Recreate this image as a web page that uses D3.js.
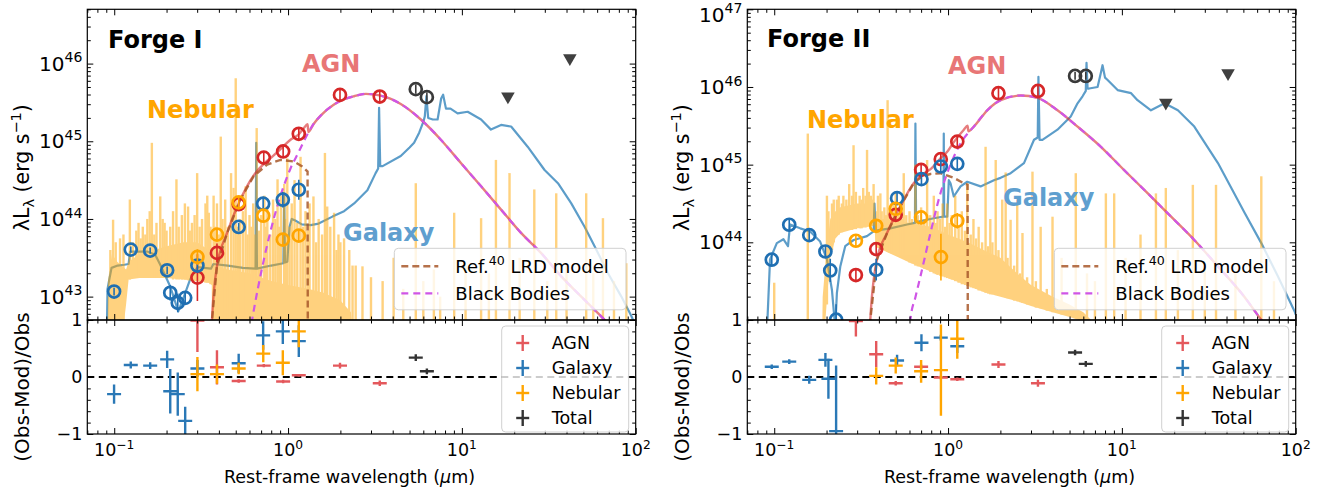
<!DOCTYPE html>
<html><head><meta charset="utf-8">
<script src="https://cdn.jsdelivr.net/npm/d3@7"></script>
<style>
body{margin:0;background:#fff;}
svg text{font-family:"DejaVu Sans",sans-serif;fill:#000;}
</style></head><body>
<svg id="fig" width="1323" height="493"></svg>
<script>
// ---------- Forge I : photometry  [wavelength (um), log10 lambda L_lambda, error (dex)] ----------
const galI = [[0.0998,43.065,0.05],[0.1245,43.605,0.04],[0.161,43.592,0.04],[0.2016,43.339,0.05],[0.210,43.049,0.10],[0.232,42.92,0.12],[0.256,42.984,0.08],[0.301,43.40,0.06],[0.52,43.897,0.05],[0.719,44.196,0.09],[0.933,44.248,0.10],[1.153,44.376,0.13]];
const agnI = [[0.301,43.245,0.30],[0.39,43.563,0.12],[0.52,44.19,0.06],[0.725,44.79,0.07],[0.937,44.869,0.07],[1.153,45.096,0.07],[1.99,45.597,0.07],[3.37,45.576,0.07]];
const nebI = [[0.301,43.511,0.10],[0.39,43.798,0.07],[0.52,44.213,0.07],[0.72,44.042,0.07],[0.933,43.734,0.07],[1.153,43.785,0.08]];
const totI = [[5.43,45.671,0.06],[6.29,45.568,0.06]];
const limI = [[18.4,45.576],[41.8,46.069]];

// ---------- Forge I : model curves [wavelength, log10 L] ----------
const galModelI = [[0.0905,42.4],[0.0915,43.1],[0.0965,43.37],[0.1047,43.40],[0.1145,43.41],[0.121,43.42],[0.1234,43.58],[0.155,43.58],[0.172,43.54],[0.184,43.41],[0.21,43.13],[0.2335,42.81],[0.25,42.98],[0.273,43.22],[0.301,43.38],[0.36,43.36],[0.372,43.42],[0.45,43.40],[0.55,43.37],[0.65,43.36],[0.656,44.98],[0.662,43.36],[0.8,43.40],[0.94,43.43],[0.95,44.33],[0.96,43.44],[0.99,43.45],[1.02,43.90],[1.05,44.0],[1.1,43.98],[1.2,43.93],[1.35,43.92],[1.5,43.94],[1.8,44.03],[2.1,44.10],[2.4,44.20],[2.86,44.37],[3.19,44.59],[3.3,44.65],[3.34,45.43],[3.39,44.68],[3.5,44.68],[4.45,44.81],[5.0,44.92],[5.31,44.98],[5.68,45.11],[6.0,45.25],[6.12,45.32],[6.25,45.58],[6.4,45.30],[6.8,45.28],[7.25,45.28],[7.6,45.55],[7.8,45.60],[8.1,45.42],[8.6,45.42],[9.45,45.36],[10.8,45.38],[12.9,45.28],[14.7,45.15],[16.8,45.21],[19.2,45.19],[23.9,44.93],[29.9,44.63],[35.7,44.46],[42.6,44.20],[50.8,43.90],[58.0,43.65],[69.3,43.30],[82.7,43.0],[94.4,42.75],[100,42.62]];
const lrdModelI = [[0.36,42.3],[0.365,42.7],[0.39,43.39],[0.446,43.82],[0.532,44.25],[0.634,44.55],[0.758,44.70],[0.905,44.76],[1.079,44.74],[1.2,44.68],[1.295,44.61],[1.3,42.0]];
const bbModelI = [[0.60,42.5],[0.621,42.7],[0.725,43.47],[0.866,44.16],[1.033,44.65],[1.15,44.86],[1.233,45.0],[1.3,45.1],[1.4,45.22],[1.54,45.33],[1.83,45.47],[2.0,45.52],[2.4,45.58],[2.8,45.61],[3.37,45.59],[4.45,45.48],[5.81,45.28],[7.57,45.02],[9.87,44.72],[12.9,44.42],[16.8,44.12],[21.9,43.82],[28.6,43.56],[37.3,43.26],[48.6,43.0],[66.2,42.70],[80,42.5]];
const agnModelI = [[0.36,42.3],[0.365,42.7],[0.39,43.39],[0.446,43.82],[0.532,44.25],[0.634,44.56],[0.725,44.71],[0.8,44.79],[0.905,44.90],[1.033,45.02],[1.153,45.09],[1.233,45.17],[1.295,45.22],[1.31,45.12],[1.4,45.22],[1.54,45.33],[1.83,45.47],[2.0,45.52],[2.4,45.58],[2.8,45.61],[3.37,45.59],[4.45,45.48],[5.81,45.28],[7.57,45.02],[9.87,44.72],[12.9,44.42],[16.8,44.12],[21.9,43.82],[28.6,43.56],[37.3,43.26],[48.6,43.0],[66.2,42.70],[80,42.5]];
// nebular continuum band [wavelength, lower, upper] and emission lines [wavelength, base, peak]
const nebBandI = [[0.0915,42.0,42.0],[0.092,42.0,43.2],[0.097,42.0,43.55],[0.104,42.0,43.45],[0.11,42.4,43.4],[0.117,42.9,43.35],[0.121,43.22,43.45],[0.14,43.24,43.55],[0.17,43.24,43.6],[0.2,43.24,43.65],[0.25,43.22,43.7],[0.3,43.2,43.7],[0.35,43.18,43.6],[0.364,43.15,43.55],[0.366,42.0,43.4],[0.45,42.0,43.35],[0.6,42.0,43.3],[0.8,42.0,43.2],[1.0,42.0,43.15],[1.3,42.0,43.1],[1.6,42.0,43.05],[2.0,42.0,42.95],[2.3,42.0,42.8],[2.5,42.0,42.0]];
const nebLinesI = [[0.0985,42.0,43.99],[0.102,42.0,43.7],[0.108,42.2,43.75],[0.123,43.22,44.25],[0.134,43.24,43.85],[0.146,43.24,43.9],[0.155,43.24,44.0],[0.1646,43.24,44.98],[0.175,43.24,43.95],[0.184,43.24,44.29],[0.195,43.24,43.95],[0.21,43.24,43.9],[0.228,43.22,44.51],[0.245,43.22,44.05],[0.266,43.21,44.16],[0.28,43.2,43.95],[0.3,43.2,44.59],[0.32,43.19,44.0],[0.335,43.18,44.2],[0.35,43.18,44.08],[0.373,42.0,44.3],[0.39,42.0,44.2],[0.41,42.0,45.06],[0.435,42.0,44.25],[0.47,42.0,44.59],[0.486,42.0,44.4],[0.5,42.0,45.81],[0.53,42.0,44.0],[0.57,42.0,44.42],[0.6,42.0,44.05],[0.63,42.0,44.2],[0.66,42.0,45.17],[0.7,42.0,44.05],[0.73,42.0,44.3],[0.76,42.0,44.16],[0.82,42.0,44.25],[0.87,42.0,44.51],[0.91,42.0,44.3],[0.95,42.0,44.45],[0.99,42.0,44.78],[1.05,42.0,44.2],[1.09,42.0,44.5],[1.18,42.0,44.80],[1.26,42.0,44.1],[1.33,42.0,44.2],[1.40,42.0,44.29],[1.5,42.0,44.0],[1.63,42.0,44.85],[1.68,42.0,44.16],[1.75,42.0,43.9],[1.84,42.0,44.08],[1.95,42.0,43.8],[2.1,42.0,43.75],[2.25,42.0,43.6],[2.45,42.0,43.4],[2.68,42.0,43.39],[3.0,42.0,43.25],[3.5,42.0,43.2],[4.05,42.0,43.5],[4.6,42.0,43.1],[5.43,42.0,44.46],[6.0,42.0,43.2],[6.9,42.0,43.35],[7.5,42.0,43.0],[9.03,42.0,44.08],[10.5,42.0,43.4],[12.9,42.0,44.01],[14.3,42.0,43.3],[15.7,42.0,44.76],[18.8,42.0,44.59],[21.5,42.0,43.5],[26.1,42.0,44.38],[31,42.0,43.2],[34.9,42.0,44.33],[40,42.0,43.4],[51.9,42.0,44.33],[57,42.0,43.3],[64.8,42.0,44.01],[75,42.0,43.2],[88.3,42.0,43.43],
  [0.095,42.0,43.6],[0.113,42.5,43.8],[0.128,43.24,43.7],[0.138,43.24,43.95],[0.142,43.24,43.75],[0.151,43.24,43.8],[0.16,43.24,44.1],[0.17,43.24,43.8],[0.19,43.24,44.0],[0.2,43.24,43.85],[0.218,43.22,44.1],[0.235,43.22,43.9],[0.255,43.22,44.2],[0.272,43.21,43.85],[0.29,43.2,44.05],[0.31,43.19,43.9],[0.343,43.18,44.3],[0.358,43.16,43.9],
  [0.38,42.0,43.9],[0.40,42.0,43.8],[0.42,42.0,44.0],[0.45,42.0,43.9],[0.515,42.0,43.9],[0.55,42.0,44.1],[0.585,42.0,43.8],[0.615,42.0,43.9],[0.645,42.0,43.8],[0.68,42.0,43.85],[0.745,42.0,43.9],[0.79,42.0,43.8],[0.845,42.0,44.0],[0.89,42.0,43.9],[0.97,42.0,44.0],[1.02,42.0,43.9],[1.13,42.0,43.95],[1.22,42.0,43.9],[1.3,42.0,43.85],[1.45,42.0,43.7],[1.57,42.0,43.8],[1.9,42.0,43.6],[2.0,42.0,43.7],[2.35,42.0,43.4]];

// ---------- Forge I : residuals [wavelength, (Obs-Mod)/Obs, error] ----------
const resAgnI = [[0.301,0.99,0.55],[0.39,0.17,0.30],[0.52,-0.07,0.03],[0.725,0.20,0.03],[0.937,-0.08,0.03],[1.153,0.03,0.02],[1.99,0.20,0.05],[3.37,-0.11,0.05]];
const resGalI = [[0.0998,-0.30,0.17],[0.1245,0.21,0.06],[0.161,0.20,0.06],[0.2016,0.31,0.15],[0.210,-0.25,0.39],[0.232,-0.30,0.38],[0.256,-0.77,0.25],[0.301,0.15,0.15],[0.52,0.24,0.17],[0.719,0.73,0.25],[0.933,0.80,0.22],[1.153,0.63,0.28]];
const resNebI = [[0.301,0.05,0.30],[0.39,0.05,0.17],[0.52,0.15,0.10],[0.72,0.41,0.15],[0.933,0.25,0.22],[1.153,0.80,0.28]];
const resTotI = [[5.43,0.34,0.06],[6.29,0.10,0.05]];

// ---------- Forge II : photometry ----------
const galII = [[0.0968,43.776,0.07],[0.122,44.226,0.07],[0.159,44.093,0.07],[0.197,43.882,0.08],[0.21,43.638,0.15],[0.227,43.004,0.2],[0.386,43.647,0.14],[0.509,44.569,0.07],[0.703,44.813,0.07],[0.908,44.976,0.07],[1.13,45.010,0.07]];
const agnII = [[0.295,43.579,0.08],[0.386,43.913,0.07],[0.50,44.354,0.07],[0.70,44.933,0.07],[0.908,45.071,0.07],[1.13,45.297,0.07],[1.95,45.920,0.07],[3.29,45.949,0.07]];
const nebII = [[0.295,44.020,0.07],[0.386,44.213,0.07],[0.50,44.431,0.07],[0.70,44.320,0.07],[0.91,43.81,0.3],[1.13,44.277,0.1]];
const totII = [[5.38,46.142,0.05],[6.2,46.142,0.05]];
const limII = [[17.9,45.799],[40.8,46.177]];

// ---------- Forge II : model curves ----------
const galModelII = [[0.0906,42.8],[0.0946,43.78],[0.1035,43.99],[0.1129,44.04],[0.12,43.95],[0.1234,44.23],[0.141,44.18],[0.161,44.14],[0.1837,44.01],[0.201,43.78],[0.2147,43.39],[0.2244,42.9],[0.2294,43.35],[0.2399,43.69],[0.2561,43.95],[0.2864,44.03],[0.3417,44.08],[0.3728,44.14],[0.3775,44.50],[0.383,44.15],[0.4656,44.18],[0.581,44.23],[0.645,44.25],[0.649,45.53],[0.655,44.26],[0.8278,44.31],[0.94,44.33],[0.945,45.40],[0.95,44.33],[0.99,44.33],[1.01,44.80],[1.033,44.76],[1.079,44.59],[1.18,44.72],[1.289,44.78],[1.538,44.72],[1.836,44.80],[2.006,44.83],[2.292,44.89],[2.734,45.02],[3.123,45.32],[3.28,45.35],[3.311,46.13],[3.36,45.32],[3.49,45.32],[4.26,45.45],[5.08,45.62],[5.56,45.79],[5.94,45.88],[6.2,45.95],[6.26,46.31],[6.35,45.98],[6.48,45.98],[7.25,46.0],[7.6,46.2],[7.74,46.28],[8.0,46.12],[8.28,46.09],[9.45,45.96],[11.3,45.92],[12.3,45.83],[14.7,45.70],[17.6,45.79],[21.0,45.70],[26.1,45.49],[35.7,45.02],[50.8,44.38],[63.4,43.99],[79.1,43.56],[98.6,43.11],[100,43.07]];
const lrdModelII = [[0.352,42.5],[0.357,43.0],[0.39,43.78],[0.4457,44.12],[0.531,44.46],[0.634,44.76],[0.709,44.85],[0.792,44.88],[0.904,44.89],[1.079,44.83],[1.233,44.76],[1.295,44.74],[1.3,42.5]];
const bbModelII = [[0.59,42.5],[0.607,43.0],[0.65,43.3],[0.6934,43.56],[0.792,44.12],[0.904,44.63],[1.0,44.92],[1.079,45.1],[1.2,45.3],[1.407,45.49],[1.681,45.7],[2.006,45.83],[2.617,45.89],[3.27,45.86],[4.26,45.70],[5.56,45.49],[7.57,45.23],[10.3,44.93],[14.1,44.63],[19.2,44.33],[26.1,44.03],[35.7,43.69],[48.6,43.35],[63.4,43.0],[80,42.7]];
const agnModelII = [[0.352,42.5],[0.357,43.0],[0.39,43.78],[0.4457,44.12],[0.531,44.46],[0.634,44.76],[0.709,44.87],[0.8,44.95],[0.904,45.08],[1.0,45.18],[1.079,45.29],[1.233,45.45],[1.295,45.50],[1.31,45.43],[1.407,45.49],[1.681,45.7],[2.006,45.83],[2.617,45.89],[3.27,45.86],[4.26,45.70],[5.56,45.49],[7.57,45.23],[10.3,44.93],[14.1,44.63],[19.2,44.33],[26.1,44.03],[35.7,43.69],[48.6,43.35],[63.4,43.0],[80,42.7]];
const nebBandII = [[0.188,42.5,42.5],[0.19,42.5,43.3],[0.2,43.2,43.9],[0.21,43.8,44.3],[0.225,44.05,44.4],[0.24,44.12,44.45],[0.3,44.18,44.5],[0.37,44.22,44.5],[0.378,44.22,44.45],[0.382,43.95,44.3],[0.45,43.87,44.3],[0.6,43.74,44.25],[0.8,43.62,44.2],[1.0,43.54,44.1],[1.3,43.44,44.0],[1.6,43.36,43.9],[2.0,43.3,43.8],[2.5,43.24,43.6],[3.0,43.18,43.45],[4.0,43.1,43.3],[5.0,43.04,43.2],[6.0,42.98,43.1],[7.0,42.9,42.95]];
const nebLinesII = [[0.1,42.5,43.48],[0.156,42.5,45.40],[0.201,43.2,44.6],[0.215,43.9,44.5],[0.2295,44.1,44.55],[0.25,44.15,44.6],[0.27,44.16,44.75],[0.286,44.17,45.25],[0.31,44.18,44.6],[0.325,44.19,44.7],[0.342,44.2,45.19],[0.36,44.21,44.6],[0.373,44.22,44.75],[0.395,43.93,44.6],[0.408,43.92,44.63],[0.43,43.9,44.45],[0.449,43.88,45.83],[0.47,43.86,44.5],[0.5,43.84,44.65],[0.53,43.82,44.45],[0.556,43.79,44.89],[0.6,43.74,44.4],[0.649,43.7,45.0],[0.7,43.68,44.45],[0.758,43.65,45.06],[0.828,43.6,44.6],[0.87,43.58,44.4],[0.93,43.56,44.5],[0.989,43.54,44.5],[1.05,43.52,44.35],[1.1,43.5,44.6],[1.2,43.46,44.4],[1.289,43.44,44.76],[1.4,43.41,44.3],[1.5,43.38,44.2],[1.644,43.35,45.23],[1.75,43.33,44.3],[1.88,43.32,45.06],[2.05,43.3,44.55],[2.145,43.29,44.9],[2.29,43.27,44.29],[2.5,43.24,44.55],[2.68,43.22,44.12],[3.06,43.18,44.91],[3.41,43.15,44.2],[3.99,43.1,44.33],[4.5,43.07,43.8],[5.43,43.03,44.89],[6.3,42.5,43.6],[7.0,42.5,43.5],[8.09,42.5,44.63],[9.03,42.5,44.63],[10.5,42.5,43.8],[12.8,42.5,44.1],[15.7,42.5,44.63],[17.9,42.5,44.70],[21,42.5,43.9],[25.6,42.5,44.74],[30,42.5,43.7],[34.8,42.5,44.74],[45,42.5,43.6],[63.4,42.5,44.85],[75,42.5,43.5],
  [0.205,43.5,44.4],[0.22,44.0,44.55],[0.235,44.1,44.6],[0.245,44.13,44.5],[0.26,44.15,44.55],[0.28,44.16,44.6],[0.295,44.17,44.65],[0.318,44.18,44.55],[0.335,44.19,44.6],[0.35,44.2,44.65],[0.365,44.21,44.55],
  [0.39,43.94,44.4],[0.415,43.91,44.4],[0.44,43.89,44.35],[0.46,43.87,44.4],[0.485,43.85,44.5],[0.515,43.83,44.35],[0.545,43.8,44.3],[0.575,43.77,44.35],[0.62,43.73,44.3],[0.67,43.69,44.35],[0.73,43.66,44.3],[0.79,43.62,44.35],[0.85,43.59,44.25],[0.9,43.57,44.3],[0.96,43.55,44.2],[1.02,43.53,44.25],[1.15,43.48,44.2],[1.25,43.45,44.15],[1.35,43.42,44.1],[1.45,43.4,44.05],[1.57,43.37,44.0],[1.7,43.34,43.95],[1.8,43.33,44.0],[1.95,43.31,43.9],[2.2,43.28,43.8],[2.4,43.25,43.7],[2.6,43.23,43.6],[2.85,43.2,43.55],[3.2,43.16,43.5],[3.7,43.12,43.4]];

// ---------- Forge II : residuals ----------
const resAgnII = [[0.295,0.98,0.27],[0.386,0.40,0.23],[0.50,-0.11,0.04],[0.70,0.18,0.04],[0.908,-0.01,0.03],[1.13,-0.04,0.03],[1.95,0.22,0.06],[3.29,-0.11,0.06]];
const resGalII = [[0.0968,0.18,0.04],[0.122,0.27,0.04],[0.159,-0.05,0.07],[0.197,0.30,0.12],[0.205,-0.03,0.35],[0.227,-0.95,1.15],[0.509,0.29,0.10],[0.703,0.60,0.15],[0.908,0.69,0.05],[1.13,0.54,0.12]];
const resNebII = [[0.386,0.02,0.15],[0.50,0.20,0.14],[0.70,0.10,0.20],[0.91,0.12,0.80],[1.13,0.67,0.35]];
const resTotII = [[5.38,0.43,0.05],[6.2,0.23,0.05]];

// ---------- axes ----------
const xDomain = [0.07, 100];
const xTickExp = [-1, 0, 1, 2];
const resTicks = [-1, 0, 1];

// ---------- styling ----------
const C = {
  agnPt:"#d62728", galPt:"#1f6fb2", nebPt:"#ffa500", totPt:"#3a3a3a",
  agnRes:"#e4585c", galRes:"#2a78b6", nebRes:"#ffa500", totRes:"#333333",
  galLine:"#1f77b4", agnLine:"#d62728", bb:"#cf55e6", lrd:"#a8582a", neb:"#ffa500",
  agnTxt:"#e87676", nebTxt:"#ffa500", galTxt:"#5f9fcf"
};
const upTop = 9.3, upBot = 320, loBot = 434;

const svg = d3.select("#fig");
const P = v => Math.pow(10, v);

function supText(g, x, y, base, exp, size, anchor) {
  const t = g.append("text").attr("x", x).attr("y", y).attr("font-size", size)
    .attr("text-anchor", anchor || "middle");
  t.append("tspan").text(base);
  t.append("tspan").attr("dy", -0.42 * size).attr("font-size", size * 0.7).text(exp);
  return t;
}

const panels = [
  { id:"I", x0:87.3, x1:635.7, yDom:[5e42,5e46], yExp:[43,44,45,46], title:"Forge I",
    gal:galI, agn:agnI, neb:nebI, tot:totI, lim:limI,
    galM:galModelI, agnM:agnModelI, bbM:bbModelI, lrdM:lrdModelI, band:nebBandI, lines:nebLinesI,
    res:[[resAgnI,"agnRes"],[resGalI,"galRes"],[resNebI,"nebRes"],[resTotI,"totRes"]],
    txt:{title:[20.7,48], agn:[214.7,72], neb:[59.7,118], gal:[255.7,241]} },
  { id:"II", x0:747.3, x1:1295.7, yDom:[1e43,1e47], yExp:[44,45,46,47], title:"Forge II",
    gal:galII, agn:agnII, neb:nebII, tot:totII, lim:limII,
    galM:galModelII, agnM:agnModelII, bbM:bbModelII, lrdM:lrdModelII, band:nebBandII, lines:nebLinesII,
    res:[[resAgnII,"agnRes"],[resGalII,"galRes"],[resNebII,"nebRes"],[resTotII,"totRes"]],
    txt:{title:[19.7,47], agn:[200.7,74], neb:[59.7,128], gal:[255.7,206]} }
];

panels.forEach(p => {
  const x = d3.scaleLog().domain(xDomain).range([p.x0, p.x1]);
  const y = d3.scaleLog().domain(p.yDom).range([upBot, upTop]);
  const r = d3.scaleLinear().domain([-1, 1]).range([loBot, upBot]);
  const g = svg.append("g");

  // clip paths
  const defs = svg.append("defs");
  defs.append("clipPath").attr("id","cu"+p.id).append("rect")
    .attr("x",p.x0).attr("y",upTop).attr("width",p.x1-p.x0).attr("height",upBot-upTop);
  defs.append("clipPath").attr("id","cl"+p.id).append("rect")
    .attr("x",p.x0).attr("y",upBot).attr("width",p.x1-p.x0).attr("height",loBot-upBot);

  const up = g.append("g").attr("clip-path","url(#cu"+p.id+")");
  const lo = g.append("g").attr("clip-path","url(#cl"+p.id+")");

  const line = d3.line().x(d => x(d[0])).y(d => y(P(d[1])));
  const smooth = d3.line().x(d => x(d[0])).y(d => y(P(d[1]))).curve(d3.curveMonotoneX);

  // galaxy model
  up.append("path").attr("d", line(p.galM)).attr("fill","none")
    .attr("stroke",C.galLine).attr("stroke-opacity",0.72).attr("stroke-width",2.2)
    .attr("stroke-linejoin","round");

  // nebular spectrum (continuum band + emission lines), translucent as one layer
  const nb = up.append("g").attr("opacity",0.5);
  nb.append("path").attr("fill",C.neb)
    .attr("d", d3.area().x(d=>x(d[0])).y0(d=>y(P(d[1]))).y1(d=>y(P(d[2])))(p.band));
  nb.selectAll("line").data(p.lines).join("line")
    .attr("x1",d=>x(d[0])).attr("x2",d=>x(d[0]))
    .attr("y1",d=>y(P(d[1]))).attr("y2",d=>y(P(d[2])))
    .attr("stroke",C.neb).attr("stroke-width",2.4);

  // AGN model, reference LRD model, black bodies
  up.append("path").attr("d", smooth(p.agnM)).attr("fill","none")
    .attr("stroke",C.agnLine).attr("stroke-opacity",0.6).attr("stroke-width",2.4);
  up.append("path").attr("d", line(p.lrdM)).attr("fill","none")
    .attr("stroke",C.lrd).attr("stroke-opacity",0.85).attr("stroke-width",2.4)
    .attr("stroke-dasharray","7,4");
  up.append("path").attr("d", smooth(p.bbM)).attr("fill","none")
    .attr("stroke",C.bb).attr("stroke-width",2.2).attr("stroke-dasharray","7,5");

  // photometry
  const pts = (data, col) => {
    const s = up.append("g");
    data.forEach(d => {
      s.append("line").attr("x1",x(d[0])).attr("x2",x(d[0]))
        .attr("y1",y(P(d[1]-d[2]))).attr("y2",y(P(d[1]+d[2])))
        .attr("stroke",col).attr("stroke-width",1.6);
      s.append("circle").attr("cx",x(d[0])).attr("cy",y(P(d[1]))).attr("r",6)
        .attr("fill","none").attr("stroke",col).attr("stroke-width",2.7);
    });
  };
  pts(p.agn, C.agnPt); pts(p.gal, C.galPt); pts(p.neb, C.nebPt); pts(p.tot, C.totPt);
  up.selectAll("path.lim").data(p.lim).join("path").attr("class","lim")
    .attr("d", d3.symbol().type(d3.symbolTriangle).size(80)())
    .attr("transform", d => `translate(${x(d[0])},${y(P(d[1]))}) rotate(180)`)
    .attr("fill","#404040");

  // residuals
  lo.append("line").attr("x1",p.x0).attr("x2",p.x1).attr("y1",r(0)).attr("y2",r(0))
    .attr("stroke","#000").attr("stroke-width",2).attr("stroke-dasharray","7,4.5");
  p.res.forEach(([data, key]) => {
    data.forEach(d => {
      lo.append("line").attr("x1",x(d[0])).attr("x2",x(d[0]))
        .attr("y1",r(d[1]-d[2])).attr("y2",r(d[1]+d[2])).attr("stroke",C[key]).attr("stroke-width",2.4);
      lo.append("line").attr("x1",x(d[0])-7).attr("x2",x(d[0])+7)
        .attr("y1",r(d[1])).attr("y2",r(d[1])).attr("stroke",C[key]).attr("stroke-width",2.4);
    });
  });

  // frames
  g.append("rect").attr("x",p.x0).attr("y",upTop).attr("width",p.x1-p.x0).attr("height",upBot-upTop)
    .attr("fill","none").attr("stroke","#000").attr("stroke-width",1.2);
  g.append("rect").attr("x",p.x0).attr("y",upBot).attr("width",p.x1-p.x0).attr("height",loBot-upBot)
    .attr("fill","none").attr("stroke","#000").attr("stroke-width",1.2);

  // ticks (inward, all sides)
  const xMaj = xTickExp.map(P);
  const xMin = x.ticks().filter(v => !xMaj.some(m => Math.abs(m - v) / v < 1e-6));
  const yMaj = p.yExp.map(P);
  const yMin = y.ticks().filter(v => !yMaj.some(m => Math.abs(m - v) / v < 1e-6));
  const resMin = d3.range(-0.8, 0.81, 0.2).filter(v => Math.abs(v) > 1e-6);
  const tk = (axisFn, scale, vals, len, tx, ty) => {
    const a = g.append("g").attr("transform",`translate(${tx},${ty})`)
      .call(axisFn(scale).tickValues(vals).tickSize(len).tickFormat(""));
    a.select(".domain").remove();
    a.selectAll("line").attr("stroke","#000").attr("stroke-width",1);
  };
  [[upTop, upBot],[upBot, loBot]].forEach(([t, b]) => {
    tk(d3.axisBottom, x, xMaj, -6, 0, b); tk(d3.axisBottom, x, xMin, -3.5, 0, b);
    tk(d3.axisTop, x, xMaj, -6, 0, t);    tk(d3.axisTop, x, xMin, -3.5, 0, t);
  });
  tk(d3.axisLeft, y, yMaj, -6, p.x0, 0);  tk(d3.axisLeft, y, yMin, -3.5, p.x0, 0);
  tk(d3.axisRight, y, yMaj, -6, p.x1, 0); tk(d3.axisRight, y, yMin, -3.5, p.x1, 0);
  tk(d3.axisLeft, r, resTicks, -6, p.x0, 0);  tk(d3.axisLeft, r, resMin, -3.5, p.x0, 0);
  tk(d3.axisRight, r, resTicks, -6, p.x1, 0); tk(d3.axisRight, r, resMin, -3.5, p.x1, 0);

  // tick labels (the topmost one is kept inside the page)
  xTickExp.forEach(e => supText(g, x(P(e)), 456, "10", e < 0 ? "\u2212" + (-e) : String(e), 17.5, "middle"));
  p.yExp.forEach(e => supText(g, p.x0 - 5, Math.max(y(P(e)) + 7, 21.5), "10", String(e), 20, "end"));
  resTicks.forEach(v => g.append("text").attr("x", p.x0 - 5).attr("y", r(v) + 6.3)
    .attr("font-size", 17.5).attr("text-anchor","end").text(v < 0 ? "\u2212" + (-v) : String(v)));

  // axis labels
  const xl = g.append("text").attr("x",(p.x0+p.x1)/2 - 12).attr("y",483).attr("font-size",17.5)
    .attr("text-anchor","middle");
  xl.append("tspan").text("Rest-frame wavelength (");
  xl.append("tspan").attr("font-style","italic").text("\u03bc");
  xl.append("tspan").text("m)");
  const yl = g.append("text").attr("transform",`translate(${p.x0-58},${(upTop+upBot)/2 + 3}) rotate(-90)`)
    .attr("font-size",20.5).attr("text-anchor","middle");
  yl.append("tspan").text("\u03bbL");
  yl.append("tspan").attr("font-size",14.5).attr("dy",4.5).text("\u03bb");
  yl.append("tspan").attr("dy",-4.5).text(" (erg s");
  yl.append("tspan").attr("font-size",14.5).attr("dy",-8).text("\u22121");
  yl.append("tspan").attr("dy",8).text(")");
  g.append("text").attr("transform",`translate(${p.x0-58},${(upBot+loBot)/2 + 10}) rotate(-90)`)
    .attr("font-size",20).attr("text-anchor","middle").text("(Obs-Mod)/Obs");

  // panel and component labels
  const bold = (pos, txt, col) => g.append("text").attr("x", p.x0 + pos[0]).attr("y", pos[1])
    .attr("font-size",24).attr("font-weight","bold").style("fill", col).text(txt);
  bold(p.txt.title, p.title, "#000");
  bold(p.txt.agn, "AGN", C.agnTxt);
  bold(p.txt.neb, "Nebular", C.nebTxt);
  bold(p.txt.gal, "Galaxy", C.galTxt);

  // upper legend
  const lx = p.x1 - 241.4, ly = 248.3;
  g.append("rect").attr("x",lx).attr("y",ly).attr("width",231.7).attr("height",61.5).attr("rx",4)
    .attr("fill","#fff").attr("fill-opacity",0.8).attr("stroke","#d0d0d0");
  g.append("line").attr("x1",lx+7).attr("x2",lx+44).attr("y1",ly+18).attr("y2",ly+18)
    .attr("stroke",C.lrd).attr("stroke-opacity",0.85).attr("stroke-width",2.4).attr("stroke-dasharray","7,4");
  g.append("line").attr("x1",lx+7).attr("x2",lx+44).attr("y1",ly+45).attr("y2",ly+45)
    .attr("stroke",C.bb).attr("stroke-width",2.2).attr("stroke-dasharray","7,5");
  const lt = g.append("text").attr("x",lx+61).attr("y",ly+24.5).attr("font-size",18);
  lt.append("tspan").text("Ref.");
  lt.append("tspan").attr("font-size",12.6).attr("dy",-7.5).text("40");
  lt.append("tspan").attr("dy",7.5).text(" LRD model");
  g.append("text").attr("x",lx+61).attr("y",ly+51.5).attr("font-size",18).text("Black Bodies");

  // lower legend
  const bx = p.x1 - 134, by = 326;
  g.append("rect").attr("x",bx).attr("y",by).attr("width",127).attr("height",106).attr("rx",4)
    .attr("fill","#fff").attr("fill-opacity",0.8).attr("stroke","#d0d0d0");
  [["AGN","agnRes"],["Galaxy","galRes"],["Nebular","nebRes"],["Total","totRes"]].forEach(([name,key],i) => {
    const cy = by + 17 + i * 25;
    g.append("line").attr("x1",bx+21).attr("x2",bx+21).attr("y1",cy-8).attr("y2",cy+8)
      .attr("stroke",C[key]).attr("stroke-width",2.4);
    g.append("line").attr("x1",bx+14.5).attr("x2",bx+27.5).attr("y1",cy).attr("y2",cy)
      .attr("stroke",C[key]).attr("stroke-width",2.4);
    g.append("text").attr("x",bx+50).attr("y",cy+6.3).attr("font-size",17.5).text(name);
  });
});
</script>
</body></html>
